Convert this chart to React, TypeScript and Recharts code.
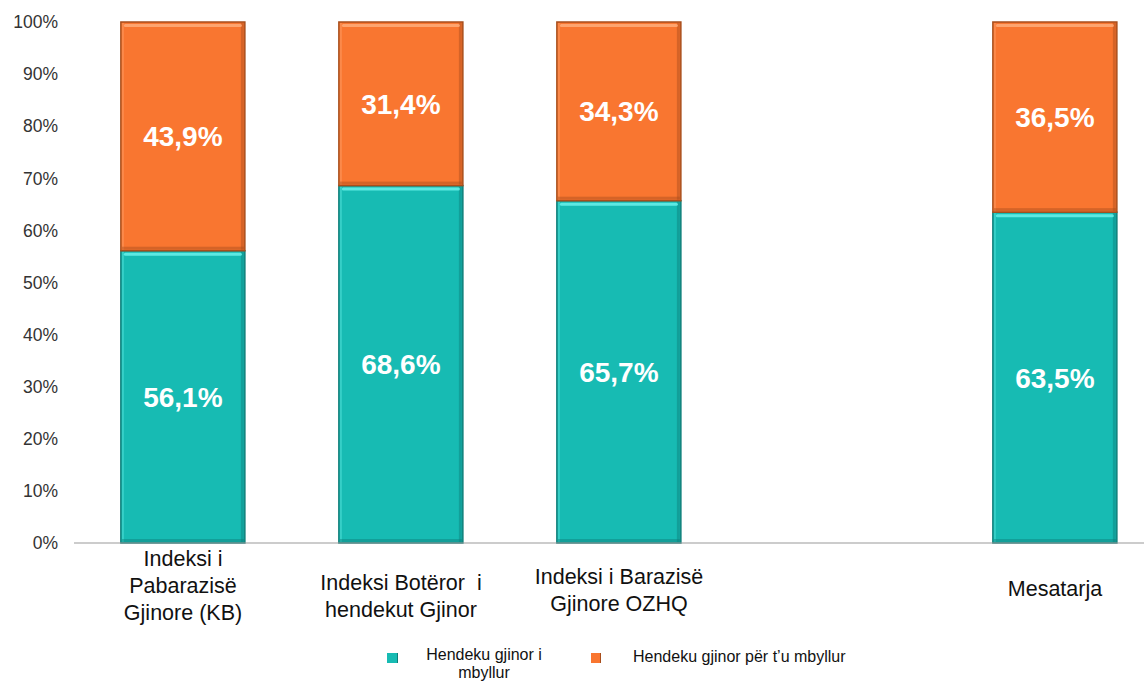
import React from "react";
import { BarChart, Bar, XAxis, YAxis, LabelList } from "recharts";

const categories = [
  "Indeksi i\nPabarazisë\nGjinore (KB)",
  "Indeksi Botëror  i\nhendekut Gjinor",
  "Indeksi i Barazisë\nGjinore OZHQ",
  "",
  "Mesatarja",
];
const closedGap = [56.1, 68.6, 65.7, null, 63.5];
const openGap = [43.9, 31.4, 34.3, null, 36.5];
const yTicks = [0, 10, 20, 30, 40, 50, 60, 70, 80, 90, 100];
const seriesNames = ["Hendeku gjinor i mbyllur", "Hendeku gjinor për t’u mbyllur"];

const data = categories.map((c, i) => ({
  name: c,
  closed: closedGap[i],
  open: openGap[i],
}));

const FONT = "Arial, 'Liberation Sans', sans-serif";
const TEAL = "#17BBB3";
const ORANGE = "#F97630";

const labelOffsets: Record<number, number> = { 0: -5, 1: 6, 2: 0, 4: -2 };

const fmt = (v: any) => (v == null ? "" : `${String(v).replace(".", ",")}%`);

const makeShape = (fill: string, dark: string, light: string) => (props: any) => {
  const { x, y, width, height } = props;
  if (!height || height <= 0) return null;
  return (
    <g>
      <rect x={x} y={y} width={width} height={height} fill={fill} stroke={dark} strokeWidth={1.5} />
      <rect x={x + 1} y={y + 1} width={2} height={height - 2} fill={light} opacity={0.35} />
      <rect x={x + width - 4} y={y + 1} width={3} height={height - 2} fill={dark} opacity={0.45} />
      <rect x={x + 1} y={y + height - 4} width={width - 2} height={3} fill={dark} opacity={0.45} />
      <rect x={x + 3} y={y + 2} width={width - 6} height={3} fill={light} opacity={0.8} rx={1.5} />
    </g>
  );
};

const XTick = (props: any) => {
  const { x, y, payload, index } = props;
  const lines: string[] = String(payload.value).split("\n").filter((s) => s !== "");
  if (!lines.length) return null;
  const lh = 27;
  const centerY = 590 - y;
  const start = centerY - ((lines.length - 1) * lh) / 2 + (labelOffsets[index] ?? 0);
  return (
    <g transform={`translate(${x},${y})`}>
      {lines.map((l, i) => (
        <text
          key={i}
          x={0}
          y={start + i * lh}
          dy="0.35em"
          textAnchor="middle"
          fontSize={21.5}
          fontFamily={FONT}
          fill="#111"
          style={{ whiteSpace: "pre" }}
        >
          {l}
        </text>
      ))}
    </g>
  );
};

export default function App() {
  return (
    <div
      style={{
        position: "absolute",
        left: 0,
        top: 0,
        width: 1144,
        height: 681,
        overflow: "hidden",
        background: "#fff",
      }}
    >
      <BarChart
        width={1170}
        height={681}
        data={data}
        margin={{ top: 22, right: 6, bottom: 0, left: 0 }}
        barCategoryGap="21.5%"
      >
        <XAxis
          dataKey="name"
          interval={0}
          tickLine={false}
          axisLine={{ stroke: "#9a9a9a", strokeWidth: 1.2 }}
          height={138}
          tick={<XTick />}
        />
        <YAxis
          width={74}
          domain={[0, 100]}
          ticks={yTicks}
          interval={0}
          tickFormatter={(v) => `${v}%`}
          tickLine={false}
          axisLine={false}
          tick={{ fontSize: 17.5, fill: "#333", fontFamily: FONT, dx: -8 }}
        />
        <Bar
          dataKey="closed"
          stackId="a"
          fill={TEAL}
          isAnimationActive={false}
          shape={makeShape(TEAL, "#0E7E79", "#6FF5EE")}
        >
          <LabelList
            dataKey="closed"
            position="center"
            formatter={fmt}
            fill="#fff"
            fontSize={28}
            fontWeight="bold"
            fontFamily={FONT}
          />
        </Bar>
        <Bar
          dataKey="open"
          stackId="a"
          fill={ORANGE}
          isAnimationActive={false}
          shape={makeShape(ORANGE, "#A84E1C", "#FFB07E")}
        >
          <LabelList
            dataKey="open"
            position="center"
            formatter={fmt}
            fill="#fff"
            fontSize={28}
            fontWeight="bold"
            fontFamily={FONT}
          />
        </Bar>
      </BarChart>
      <div
        style={{
          position: "absolute",
          left: 0,
          top: 0,
          width: 1144,
          height: 681,
          pointerEvents: "none",
          fontFamily: FONT,
          fontSize: 16,
          color: "#111",
        }}
      >
        <div style={{ position: "absolute", left: 387, top: 653, width: 10, height: 10, background: TEAL, borderRight: "1px solid #0E7E79" }} />
        <div style={{ position: "absolute", left: 420, top: 646, width: 128, textAlign: "center", lineHeight: "18px" }}>
          Hendeku gjinor i
          <br />
          mbyllur
        </div>
        <div style={{ position: "absolute", left: 591, top: 653, width: 9, height: 10, background: ORANGE, borderRight: "1px solid #A84E1C" }} />
        <div style={{ position: "absolute", left: 633, top: 648, whiteSpace: "nowrap", lineHeight: "18px" }}>
          {seriesNames[1]}
        </div>
      </div>
    </div>
  );
}
